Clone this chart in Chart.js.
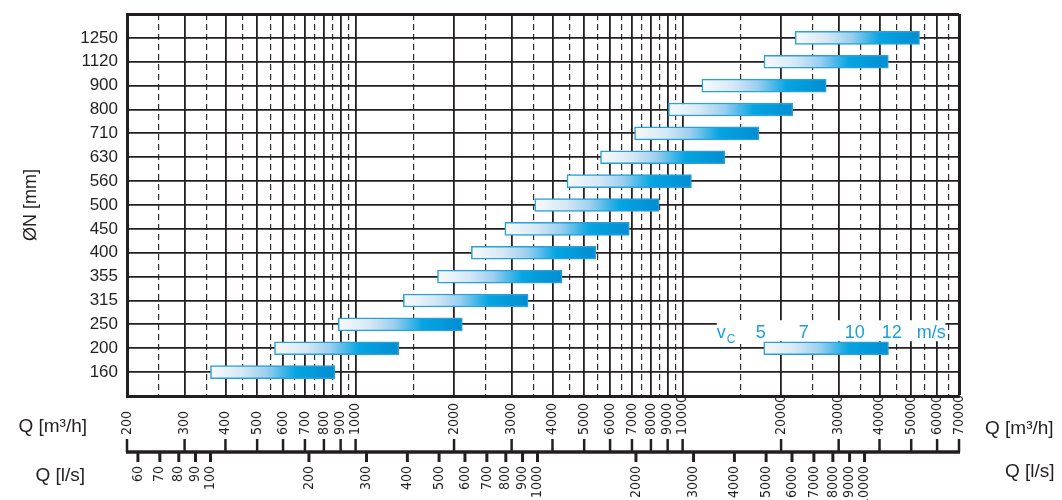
<!DOCTYPE html>
<html>
<head>
<meta charset="utf-8">
<script src="https://cdn.jsdelivr.net/npm/chart.js@4"></script>
<style>
  html, body { margin: 0; padding: 0; background: #fff; }
  #wrap { width: 1062px; height: 500px; }
</style>
</head>
<body>
<div id="wrap"><canvas id="ductChart" width="1062" height="500"></canvas></div>
<script>
// Nominal duct diameters (mm), bottom to top
const diameters = [160, 200, 250, 315, 355, 400, 450, 500, 560, 630, 710, 800, 900, 1120, 1250];
// Flow range of each diameter (m3/h)
const flowMin = [360, 565, 885, 1400, 1780, 2260, 2860, 3530, 4430, 5610, 7130, 9050, 11450, 17730, 22090];
const flowMax = [865, 1355, 2120, 3370, 4280, 5430, 6870, 8480, 10640, 13470, 17100, 21700, 27480, 42560, 53010];

// velocity legend bar, drawn on the 200 row
const legendRow = 200;
const legendRange = [17700, 42600];
const legendLabels = ['5', '7', '10', '12'];

// Q [m3/h] scale: labelled values (solid grid lines)
const flowTicks = [200, 300, 400, 500, 600, 700, 800, 900, 1000, 2000, 3000, 4000, 5000, 6000, 7000, 8000, 9000, 10000,
  20000, 30000, 40000, 50000, 60000, 70000];
// dashed grid lines in between
const halfTicks = [250, 350, 450, 550, 650, 750, 850, 950, 1500, 2500, 3500, 4500, 5500, 6500, 7500, 8500, 9500,
  15000, 25000, 35000, 45000, 55000, 65000];
// Q [l/s] scale
const litreTicks = [60, 70, 80, 90, 100, 200, 300, 400, 500, 600, 700, 800, 900, 1000, 2000, 3000, 4000, 5000,
  6000, 7000, 8000, 9000, 10000];

const ink = '#231f20';
const blue = '#1a9fdc';
const dashed = new Set(halfTicks);
const gridValues = flowTicks.concat(halfTicks).sort((a, b) => a - b);

// category rows, with an empty row at each end so the grid reaches the frame
const rowLabels = [''].concat(diameters.map(String), [' ']);
const barData = [null].concat(diameters.map((d, i) => [flowMin[i], flowMax[i]]), [null]);
const legendData = rowLabels.map(l => (l === String(legendRow) ? legendRange : null));

function barFill(c) {
  const raw = c.raw;
  if (!Array.isArray(raw)) return '#0090d2';
  const x = c.chart.scales.x;
  const x0 = x.getPixelForValue(raw[0]);
  const x1 = x.getPixelForValue(raw[1]);
  if (!isFinite(x0) || !isFinite(x1)) return '#0090d2';
  const g = c.chart.ctx.createLinearGradient(x0, 0, x1, 0);
  g.addColorStop(0, '#f8fafc');
  g.addColorStop(0.25, '#d6e8f5');
  g.addColorStop(0.45, '#9bcfef');
  g.addColorStop(0.68, '#05a5e2');
  g.addColorStop(1, '#008dd1');
  return g;
}

const barStyle = {
  backgroundColor: barFill,
  borderColor: '#2a9fd8',
  borderWidth: 1.5,
  borderSkipped: false,
  barThickness: 13,
  grouped: false
};

// white patch and blue text of the velocity legend
const velocityLegend = {
  id: 'velocityLegend',
  beforeDatasetsDraw(chart) {
    const ctx = chart.ctx, x = chart.scales.x, y = chart.scales.y;
    const rowY = y.getPixelForValue(rowLabels.indexOf(String(legendRow)));
    const x0 = x.getPixelForValue(legendRange[0]);
    const x1 = x.getPixelForValue(legendRange[1]);
    ctx.save();
    ctx.fillStyle = '#fff';
    ctx.fillRect(x0 - 47, rowY - 28, (x1 + 57) - (x0 - 47), 21);
    ctx.restore();
  },
  afterDatasetsDraw(chart) {
    const ctx = chart.ctx, x = chart.scales.x, y = chart.scales.y;
    const rowY = y.getPixelForValue(rowLabels.indexOf(String(legendRow)));
    const x0 = x.getPixelForValue(legendRange[0]);
    const base = rowY - 10;
    ctx.save();
    ctx.fillStyle = blue;
    ctx.textBaseline = 'alphabetic';
    ctx.font = '18px "Liberation Sans", Arial, sans-serif';
    ctx.textAlign = 'left';
    ctx.fillText('v', x0 - 47, base);
    ctx.font = '12px "Liberation Sans", Arial, sans-serif';
    ctx.fillText('C', x0 - 37, base + 5);
    ctx.font = '18px "Liberation Sans", Arial, sans-serif';
    ctx.textAlign = 'center';
    const offs = [-3, 40, 91, 128];
    legendLabels.forEach((t, i) => ctx.fillText(t, x0 + offs[i], base));
    ctx.textAlign = 'left';
    ctx.fillText('m/s', x0 + 153, base);
    ctx.restore();
  }
};

// double scale under the plot: m3/h above the line, l/s below
const lowerAxis = {
  id: 'lowerAxis',
  afterDraw(chart) {
    const ctx = chart.ctx, x = chart.scales.x;
    const lineY = chart.chartArea.bottom + 56;
    ctx.save();
    ctx.strokeStyle = ink;
    ctx.fillStyle = ink;
    ctx.lineWidth = 3.5;
    ctx.beginPath();
    ctx.moveTo(x.getPixelForValue(flowTicks[0]) - 1, lineY);
    ctx.lineTo(x.getPixelForValue(flowTicks[flowTicks.length - 1]) + 1, lineY);
    ctx.stroke();

    ctx.lineWidth = 2.5;
    flowTicks.forEach(v => {
      const px = x.getPixelForValue(v);
      ctx.beginPath(); ctx.moveTo(px, lineY - 13); ctx.lineTo(px, lineY); ctx.stroke();
    });
    ctx.lineWidth = 3;
    litreTicks.forEach(v => {
      const px = x.getPixelForValue(v * 3.6);
      ctx.beginPath(); ctx.moveTo(px, lineY); ctx.lineTo(px, lineY + 10); ctx.stroke();
    });

    ctx.font = '14px "Liberation Sans Narrow", "DejaVu Sans Condensed", "Liberation Sans", sans-serif';
    ctx.textBaseline = 'middle';
    flowTicks.forEach(v => {
      ctx.save();
      ctx.translate(x.getPixelForValue(v), lineY - 17);
      ctx.rotate(-Math.PI / 2);
      ctx.textAlign = 'left';
      ctx.fillText(String(v), 0, 0);
      ctx.restore();
    });
    litreTicks.forEach(v => {
      ctx.save();
      ctx.translate(x.getPixelForValue(v * 3.6), lineY + 14);
      ctx.rotate(-Math.PI / 2);
      ctx.textAlign = 'right';
      ctx.fillText(String(v), 0, 0);
      ctx.restore();
    });

    ctx.font = '19px "Liberation Sans", Arial, sans-serif';
    ctx.textAlign = 'right';
    ctx.fillText('Q [m³/h]', 87, lineY - 25);
    ctx.fillText('Q [l/s]', 85, lineY + 24);
    ctx.textAlign = 'left';
    ctx.fillText('Q [m³/h]', 985, lineY - 23);
    ctx.fillText('Q [l/s]', 1005, lineY + 20);
    ctx.restore();
  }
};

new Chart(document.getElementById('ductChart'), {
  type: 'bar',
  data: {
    labels: rowLabels,
    datasets: [
      Object.assign({ label: 'ØN', data: barData }, barStyle),
      Object.assign({ label: 'vC', data: legendData }, barStyle)
    ]
  },
  options: {
    indexAxis: 'y',
    responsive: false,
    animation: false,
    devicePixelRatio: 1,
    layout: { padding: { top: 14, right: 103, bottom: 104, left: 0 } },
    plugins: { legend: { display: false }, tooltip: { enabled: false } },
    scales: {
      x: {
        type: 'logarithmic',
        min: 200,
        max: 70000,
        afterBuildTicks(scale) { scale.ticks = gridValues.map(v => ({ value: v })); },
        afterFit(scale) { scale.height = 0; },
        ticks: { display: false },
        grid: {
          drawTicks: false,
          color: c => (c.tick && dashed.has(c.tick.value) ? '#2e2e2e' : ink),
          lineWidth: c => {
            if (!c.tick) return 2;
            if (c.tick.value === 70000) return 3;
            return dashed.has(c.tick.value) ? 1.2 : 1.8;
          }
        },
        border: {
          display: true, color: ink, width: 3,
          dash: c => (c.tick && dashed.has(c.tick.value) ? [6, 4] : [])
        }
      },
      y: {
        type: 'category',
        reverse: true,
        offset: false,
        afterFit(scale) { scale.width = 127; },
        grid: {
          offset: false,
          drawTicks: true,
          tickLength: 9,
          tickColor: 'rgba(0,0,0,0)',
          color: ink,
          lineWidth: c => (c.index === rowLabels.length - 1 ? 3 : 1.8)
        },
        border: { display: true, color: ink, width: 3 },
        ticks: {
          autoSkip: false,
          padding: 0,
          color: ink,
          font: { family: '"Liberation Sans", Arial, sans-serif', size: 17 }
        },
        title: {
          display: true,
          text: 'ØN [mm]',
          color: ink,
          font: { family: '"Liberation Sans", Arial, sans-serif', size: 18 },
          padding: { top: 20, bottom: 0 }
        }
      }
    }
  },
  plugins: [velocityLegend, lowerAxis]
});
</script>
</body>
</html>
